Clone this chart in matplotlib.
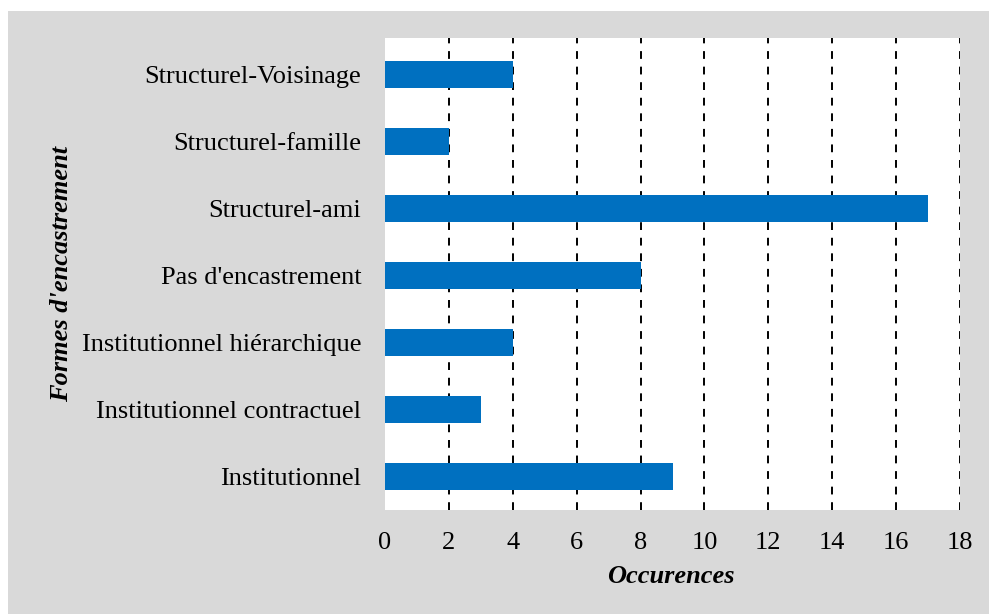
import matplotlib.pyplot as plt
from matplotlib.patches import Rectangle

categories = ["Institutionnel", "Institutionnel contractuel", "Institutionnel hiérarchique",
              "Pas d'encastrement", "Structurel-ami", "Structurel-famille", "Structurel-Voisinage"]
values = [9, 3, 4, 8, 17, 2, 4]
xticks = [0, 2, 4, 6, 8, 10, 12, 14, 16, 18]

plt.rcParams['font.family'] = ['Liberation Serif', 'DejaVu Serif']

fig = plt.figure(figsize=(9.89, 6.14), dpi=100)
fig.patch.set_facecolor("white")
fig.patches.append(Rectangle((8 / 989, 0), 1, 1 - 11 / 614, transform=fig.transFigure,
                             facecolor="#d9d9d9", edgecolor="none", zorder=-10))

ax = fig.add_axes([385 / 989, 1 - 510 / 614, (960 - 385) / 989, (510 - 38) / 614])
ax.set_facecolor("white")
ax.barh(range(len(categories)), values, height=0.4, color="#0070c0", zorder=3)

ax.set_xlim(0, 18)
ax.set_ylim(-0.5, len(categories) - 0.45)
ax.set_xticks(xticks)
ax.set_yticks(range(len(categories)))
ax.set_yticklabels(categories)
for s in ax.spines.values():
    s.set_visible(False)
ax.tick_params(axis="both", length=0, labelsize=19)
ax.tick_params(axis="x", pad=16)
ax.tick_params(axis="y", pad=17)
for x in xticks[1:]:
    ax.axvline(x, color="black", linestyle=(0, (4, 4)), linewidth=1.4, zorder=1)

ax.set_xlabel("Occurences", fontsize=19, fontweight="bold", fontstyle="italic")
ax.set_ylabel("Formes d'encastrement", fontsize=19, fontweight="bold", fontstyle="italic")
ax.xaxis.set_label_coords(0.497, -0.14)
ax.yaxis.set_label_coords(-0.562, 0.5)
ax.xaxis.label.set_va("center")
ax.yaxis.label.set_va("center")

fig.savefig("out.png", dpi=100)
